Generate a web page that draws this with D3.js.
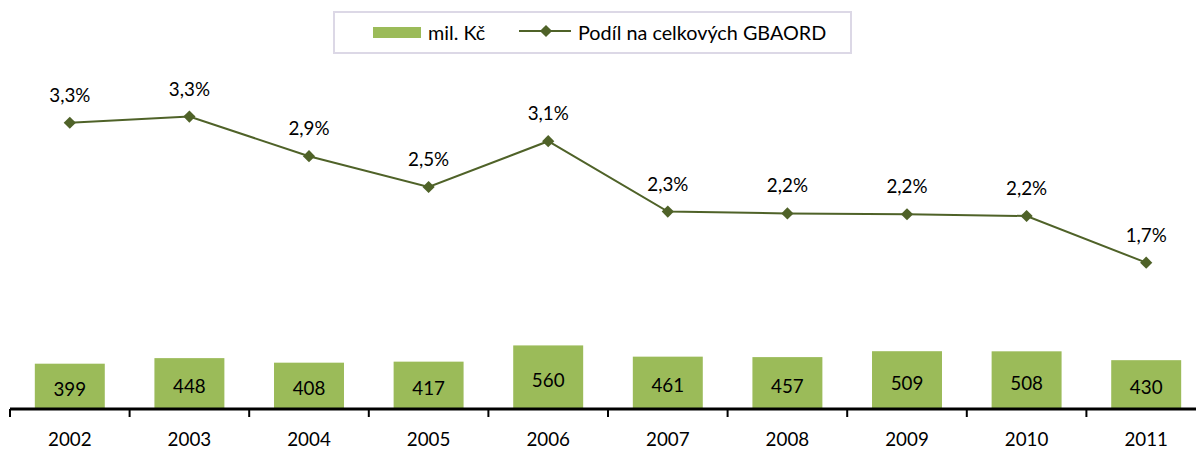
<!DOCTYPE html>
<html>
<head>
<meta charset="utf-8">
<script src="https://cdn.jsdelivr.net/npm/d3@7"></script>
<style>
  html, body { margin: 0; padding: 0; background: #fff; }
  svg { display: block; font-family: Lato, "Open Sans", sans-serif; }
</style>
</head>
<body>
<svg id="chart" width="1196" height="450"></svg>
<script>
// ---- data ----
const years = ["2002","2003","2004","2005","2006","2007","2008","2009","2010","2011"];
const milKc = [399, 448, 408, 417, 560, 461, 457, 509, 508, 430];
const podil = [3.27, 3.34, 2.89, 2.54, 3.06, 2.26, 2.24, 2.23, 2.21, 1.68];
const legendLabels = ["mil. Kč", "Podíl na celkových GBAORD"];

const barColor = "#9bbb59";
const lineColor = "#4f6228";
const fontSize = 18.8;

const svg = d3.select("#chart");

const baseY = 409;
const x = d3.scaleBand().domain(years).range([10, 1206]).paddingInner(0).paddingOuter(0);
const yBar = d3.scaleLinear().domain([0, 3100]).range([baseY, 57]);
const yLine = d3.scaleLinear().domain([0, 4]).range([410.5, 58.5]);

const barW = x.bandwidth() * 0.585;
const cx = d => x(d) + x.bandwidth() / 2;

// bars
svg.append("g").selectAll("rect").data(years).join("rect")
  .attr("x", d => cx(d) - barW / 2)
  .attr("y", (d, i) => yBar(milKc[i]))
  .attr("width", barW)
  .attr("height", (d, i) => baseY - yBar(milKc[i]))
  .attr("fill", barColor);

// bar labels
svg.append("g").selectAll("text").data(years).join("text")
  .attr("x", d => cx(d))
  .attr("y", (d, i) => (yBar(milKc[i]) + baseY) / 2 + 9.5)
  .attr("text-anchor", "middle")
  .attr("font-size", fontSize)
  .attr("fill", "#000")
  .text((d, i) => milKc[i]);

// axis
const axis = d3.axisBottom(x).tickSize(0).tickPadding(0).tickFormat(() => "");
const axisG = svg.append("g").attr("transform", `translate(0,${baseY})`).call(axis);
axisG.select(".domain").remove();
axisG.append("line").attr("x1", 10).attr("x2", 1196).attr("y1", 0).attr("y2", 0)
  .attr("stroke", "#000").attr("stroke-width", 3);
// boundary ticks
svg.append("g").selectAll("line").data(years).join("line")
  .attr("x1", d => x(d)).attr("x2", d => x(d))
  .attr("y1", baseY).attr("y2", baseY + 8)
  .attr("stroke", "#000").attr("stroke-width", 2);
// year labels
svg.append("g").selectAll("text").data(years).join("text")
  .attr("x", d => cx(d))
  .attr("y", 446)
  .attr("text-anchor", "middle")
  .attr("font-size", fontSize)
  .attr("fill", "#000")
  .text(d => d);

// line
const line = d3.line().x((d, i) => cx(years[i])).y(d => yLine(d));
svg.append("path").datum(podil)
  .attr("d", line)
  .attr("fill", "none")
  .attr("stroke", lineColor)
  .attr("stroke-width", 2);

const diamond = d3.symbol().type(d3.symbolDiamond2).size(95);
svg.append("g").selectAll("path").data(podil).join("path")
  .attr("d", diamond)
  .attr("transform", (d, i) => `translate(${cx(years[i])},${yLine(d)})`)
  .attr("fill", lineColor);

const fmt = v => v.toFixed(1).replace(".", ",") + "%";
svg.append("g").selectAll("text").data(podil).join("text")
  .attr("x", (d, i) => cx(years[i]))
  .attr("y", d => yLine(d) - 21)
  .attr("text-anchor", "middle")
  .attr("font-size", fontSize)
  .attr("fill", "#000")
  .text(d => fmt(d));

// legend
const lg = svg.append("g");
lg.append("rect").attr("x", 334).attr("y", 12).attr("width", 517).attr("height", 41)
  .attr("fill", "#fff").attr("stroke", "#dcd8e6").attr("stroke-width", 2);
lg.append("rect").attr("x", 373).attr("y", 27).attr("width", 48).attr("height", 11)
  .attr("fill", barColor);
lg.append("text").attr("x", 428).attr("y", 40).attr("font-size", 19.8).text(legendLabels[0]);
lg.append("line").attr("x1", 519).attr("x2", 571).attr("y1", 31).attr("y2", 31)
  .attr("stroke", lineColor).attr("stroke-width", 2);
lg.append("path").attr("d", diamond).attr("transform", "translate(546,31)").attr("fill", lineColor);
lg.append("text").attr("x", 578).attr("y", 40).attr("font-size", 19.8).text(legendLabels[1]);
</script>
</body>
</html>
